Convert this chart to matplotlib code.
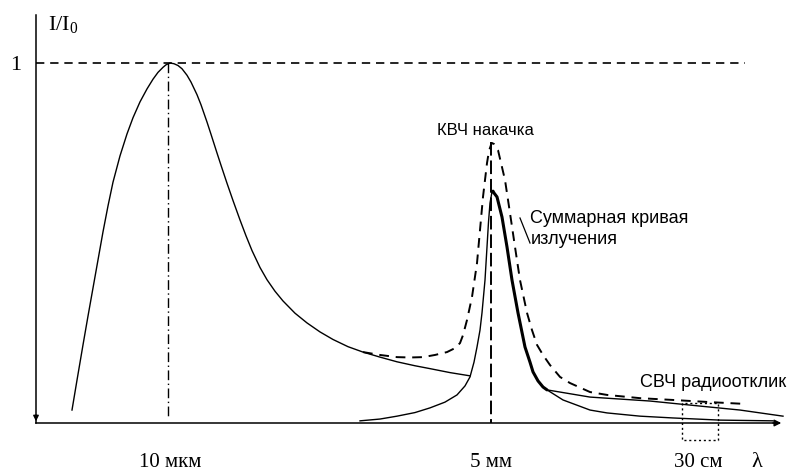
import numpy as np
import matplotlib
matplotlib.use("Agg")
import matplotlib.pyplot as plt

plt.rcParams['mathtext.fontset'] = 'custom'
plt.rcParams['mathtext.rm'] = 'Liberation Serif'
plt.rcParams['mathtext.it'] = 'Liberation Serif:italic'

# тепловой пик (10 мкм)
thermal_x = [72, 77, 83, 88, 93, 98, 103, 108, 113, 120, 127, 133, 140, 147, 153, 158, 163, 166, 170,
             174, 178, 182, 187, 191, 197, 201, 207, 211, 217, 221, 227, 233, 240, 246, 252, 260, 267,
             275, 283, 295, 307, 320, 333, 348, 363, 380, 397, 415, 430, 450, 470]
thermal_y = [0.036, 0.119, 0.217, 0.297, 0.375, 0.453, 0.531, 0.603, 0.669, 0.742, 0.803, 0.848, 0.892,
             0.928, 0.955, 0.974, 0.988, 0.995, 1.0, 0.998, 0.993, 0.984, 0.966, 0.947, 0.912, 0.884,
             0.836, 0.802, 0.750, 0.716, 0.666, 0.618, 0.564, 0.520, 0.479, 0.432, 0.398, 0.366, 0.339,
             0.305, 0.278, 0.253, 0.232, 0.212, 0.197, 0.183, 0.170, 0.159, 0.151, 0.140, 0.131]

# левая ветвь резонанса (5 мм)
lor_left_x = [360, 380, 397, 415, 430, 445, 457, 465, 470, 474, 477, 480, 482, 485, 487, 488.5, 490, 492]
lor_left_y = [0.006, 0.011, 0.019, 0.029, 0.042, 0.058, 0.078, 0.103, 0.128, 0.169, 0.211, 0.258,
              0.306, 0.397, 0.489, 0.558, 0.611, 0.642]

# суммарная кривая (правая ветвь, жирная)
sum_x = [492, 493, 494, 497, 502, 507, 512, 518, 525, 530, 533, 538, 543, 547]
sum_y = [0.642, 0.644, 0.639, 0.628, 0.572, 0.489, 0.397, 0.306, 0.211, 0.169, 0.142, 0.117, 0.10, 0.092]

# хвосты справа
tail_low_x = [547, 563, 590, 607, 640, 673, 720, 773]
tail_low_y = [0.092, 0.064, 0.036, 0.028, 0.019, 0.014, 0.008, 0.006]
tail_up_x = [547, 590, 650, 700, 740, 783]
tail_up_y = [0.092, 0.072, 0.061, 0.047, 0.036, 0.019]

# КВЧ накачка (штриховая)
pump_x = [363, 380, 397, 410, 423, 435, 447, 455, 460, 463, 467, 472, 477, 480, 483, 485, 487, 489, 491.7,
          494, 498, 505, 510, 515, 520, 527, 532, 537, 543, 550, 560, 570, 590, 607, 640, 673, 710, 745]
pump_y = [0.197, 0.189, 0.183, 0.182, 0.183, 0.189, 0.197, 0.208, 0.222, 0.244, 0.286, 0.35, 0.444,
          0.536, 0.628, 0.675, 0.722, 0.756, 0.778, 0.775, 0.758, 0.675, 0.583, 0.489, 0.397, 0.306,
          0.258, 0.217, 0.189, 0.161, 0.128, 0.111, 0.086, 0.078, 0.069, 0.064, 0.058, 0.053]

peak_ir_x = 168
peak_mw_x = 491
tick_labels = ["10 мкм", "5 мм", "30 см"]
tick_x = [170, 491, 698]

fig = plt.figure(figsize=(7.9, 4.76), dpi=100)
ax = fig.add_axes([0, 0, 1, 1])
ax.set_xlim(0, 790)
ax.set_ylim(-53 / 360, 423 / 360)
ax.axis("off")

k = "black"
serif = "Liberation Serif"
sans = "Liberation Sans"

# оси
ax.plot([36, 36], [0, 408 / 360], color=k, lw=1.1)
ax.plot([36, 779], [0, 0], color=k, lw=1.1)
ax.annotate("", xy=(784, 0), xytext=(770, 0),
            arrowprops=dict(arrowstyle="-|>", color=k, lw=1.0, mutation_scale=10))
ax.annotate("", xy=(36, -0.003), xytext=(36, 0.03),
            arrowprops=dict(arrowstyle="-|>", color=k, lw=1.0, mutation_scale=8))

# уровень 1 и вертикали пиков
ax.plot([36, 745], [1, 1], color=k, lw=1.2, dashes=(5, 3.5))
ax.plot([peak_ir_x, peak_ir_x], [1, 0.02], color=k, lw=1.0, dashes=(7, 2.5, 1, 2.5))
ax.plot([peak_mw_x, peak_mw_x], [0.78, 0], color=k, lw=1.4, dashes=(7, 2.5))

# кривые
ax.plot(thermal_x, thermal_y, color=k, lw=1.0)
ax.plot(lor_left_x, lor_left_y, color=k, lw=1.0)
ax.plot(sum_x, sum_y, color=k, lw=2.2, solid_capstyle="round", solid_joinstyle="round")
ax.plot(tail_low_x, tail_low_y, color=k, lw=1.0)
ax.plot(tail_up_x, tail_up_y, color=k, lw=1.0)
ax.plot(pump_x, pump_y, color=k, lw=1.4, dashes=(5, 3.5))

# пунктирная рамка (СВЧ)
ax.plot([682, 682, 718, 718, 682], [0.055, -0.047, -0.047, 0.055, 0.055], color=k, lw=1.0,
        dashes=(1.5, 2))

# выноска
ax.plot([520, 530], [(423 - 218) / 360, (423 - 243) / 360], color=k, lw=0.9)

# подписи
ax.text(48, (423 - 30) / 360, "I/I$_0$", family=serif, fontsize=16, va="baseline", ha="left")
ax.text(16, (423 - 70) / 360, "1", family=serif, fontsize=16, va="baseline", ha="center")
for lab, tx in zip(tick_labels, tick_x):
    ax.text(tx, (423 - 467) / 360, lab, family=serif, fontsize=15, va="baseline", ha="center")
ax.text(757, (423 - 467) / 360, "λ", family=serif, fontsize=16, va="baseline", ha="center")

ax.text(485, (423 - 135) / 360, "КВЧ накачка", family=sans, fontsize=12, va="baseline", ha="center")
ax.text(530, (423 - 223) / 360, "Суммарная кривая", family=sans, fontsize=13, va="baseline", ha="left")
ax.text(531, (423 - 244) / 360, "излучения", family=sans, fontsize=13, va="baseline", ha="left")
ax.text(640, (423 - 387) / 360, "СВЧ радиоотклик", family=sans, fontsize=13, va="baseline", ha="left")

fig.savefig("out.png", dpi=100)
